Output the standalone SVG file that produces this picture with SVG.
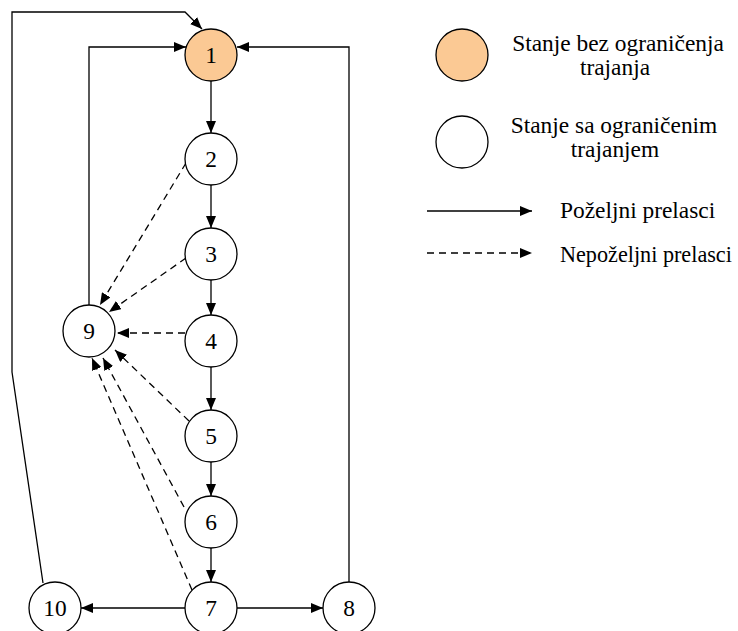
<svg xmlns="http://www.w3.org/2000/svg" width="738" height="631" viewBox="0 0 738 631">
<style>
.n{fill:#fff;stroke:#000;stroke-width:1.3}
.o{fill:#FBC994;stroke:#000;stroke-width:1.3}
.t{font-family:"Liberation Serif","Times New Roman",serif;font-size:23.4px;fill:#000}
.c{text-anchor:middle}
.e{fill:none;stroke:#000;stroke-width:1.3;marker-end:url(#a)}
.d{stroke-dasharray:7,5}
</style>
<defs>
<marker id="a" markerUnits="userSpaceOnUse" markerWidth="12" markerHeight="10" refX="12" refY="5" orient="auto" viewBox="0 0 12 10">
<path d="M0,0 L12,5 L0,10 z" fill="#000"/>
</marker>
</defs>
<rect width="738" height="631" fill="#fff"/>
<g id="connectors">
<path class="e" d="M211,81 V133"/>
<path class="e" d="M211,185 V228"/>
<path class="e" d="M211,280 V315"/>
<path class="e" d="M211,367 V410"/>
<path class="e" d="M211,462 V496"/>
<path class="e" d="M211,548 V582"/>
<path class="e" d="M185,608 H81"/>
<path class="e" d="M237,608 H323"/>
<path class="e" d="M349,582 V47 H237"/>
<path class="e" d="M89,305 V47 H186"/>
<path class="e" d="M43,583 L12,372 V12 H185 L202,29"/>
<path class="e d" d="M186,163 L100,305"/>
<path class="e d" d="M186,258 L109,312"/>
<path class="e d" d="M185,333 H117"/>
<path class="e d" d="M189,421 L115,350"/>
<path class="e d" d="M184,507 L103,358"/>
<path class="e d" d="M192,590 L92,358"/>
</g>
<g id="n1"><circle class="o" cx="211" cy="55" r="26"/><text class="t c" x="211" y="63">1</text></g>
<g id="n2"><circle class="n" cx="211" cy="159" r="26"/><text class="t c" x="211" y="167">2</text></g>
<g id="n3"><circle class="n" cx="211" cy="254" r="26"/><text class="t c" x="211" y="262">3</text></g>
<g id="n4"><circle class="n" cx="211" cy="341" r="26"/><text class="t c" x="211" y="349">4</text></g>
<g id="n5"><circle class="n" cx="211" cy="436" r="26"/><text class="t c" x="211" y="444">5</text></g>
<g id="n6"><circle class="n" cx="211" cy="522" r="26"/><text class="t c" x="211" y="530">6</text></g>
<g id="n7"><circle class="n" cx="211" cy="608" r="26"/><text class="t c" x="211" y="616">7</text></g>
<g id="n8"><circle class="n" cx="349" cy="608" r="26"/><text class="t c" x="349" y="616">8</text></g>
<g id="n9"><circle class="n" cx="89" cy="331" r="26"/><text class="t c" x="89" y="339">9</text></g>
<g id="n10"><circle class="n" cx="55" cy="608" r="26"/><text class="t c" x="55" y="616">10</text></g>
<g id="legend">
<circle class="o" cx="462" cy="55" r="26"/>
<text class="t c" x="618" y="51">Stanje bez ograničenja</text>
<text class="t c" x="615" y="75">trajanja</text>
<circle class="n" cx="462" cy="142" r="26"/>
<text class="t c" x="614" y="133">Stanje sa ograničenim</text>
<text class="t c" x="615" y="157">trajanjem</text>
<path class="e" d="M427,211 H532"/>
<text class="t" x="560" y="218">Poželjni prelasci</text>
<path class="e d" d="M427,253 H532"/>
<text class="t" x="560" y="262" style="font-size:22.2px">Nepoželjni prelasci</text>
</g>
</svg>
